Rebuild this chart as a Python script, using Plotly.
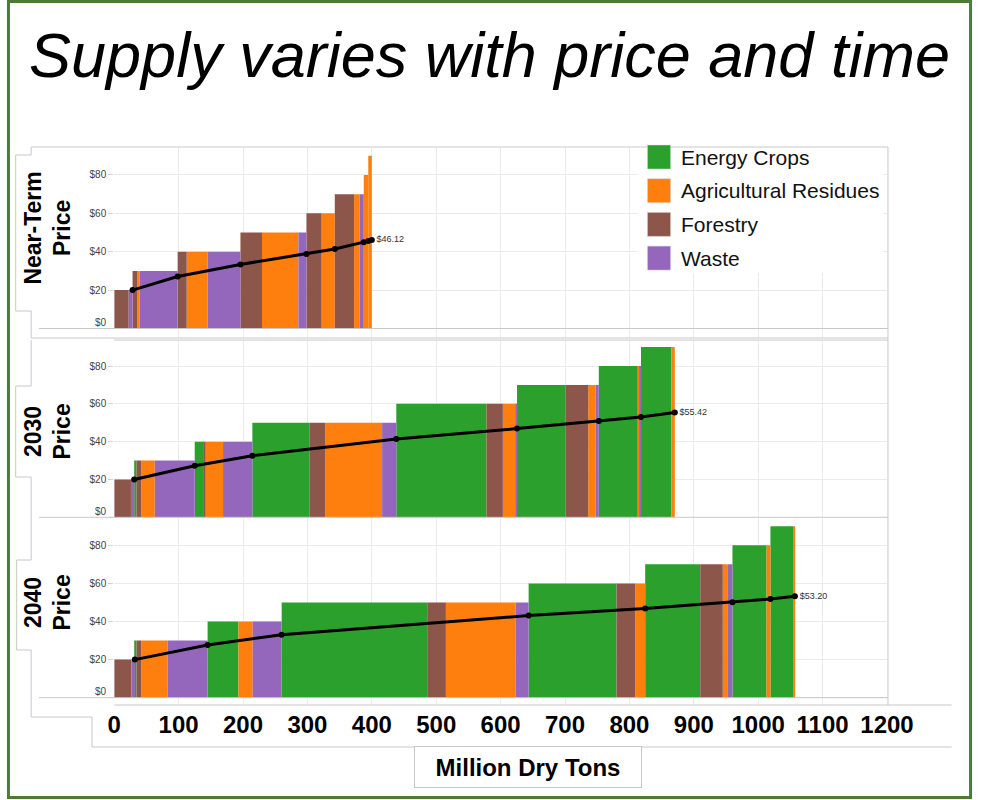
import plotly.graph_objects as go

W, H = 999, 800
FONT = "Liberation Sans, Arial, sans-serif"

# Feedstock categories and their colours
FEEDSTOCKS = ["Energy Crops", "Agricultural Residues", "Forestry", "Waste"]
COLORS = ["#2ca02c", "#ff7f0e", "#8c564b", "#9467bd"]
CODE = {"E": "Energy Crops", "A": "Agricultural Residues", "F": "Forestry", "W": "Waste"}

# Supply segments along each curve: price ($/dry ton), feedstock code, quantity (million dry tons)
nt_price = [20, 20, 30, 30, 30, 40, 40, 40, 50, 50, 50, 60, 60, 70, 70, 70, 80, 90]
nt_type = ["F", "W", "F", "A", "W", "F", "A", "W", "F", "A", "W", "F", "A", "F", "A", "W", "A", "A"]
nt_qty = [22.5, 6, 7.5, 3.5, 59, 14, 32.5, 51, 33.5, 56.5, 12.5, 23.5, 20.5, 30, 8.5, 6.5, 7, 5.5]

y2030_price = [20, 20, 30, 30, 30, 30, 40, 40, 40, 40, 50, 50, 50, 50,
               60, 60, 60, 60, 70, 70, 70, 70, 80, 80, 80, 90, 90]
y2030_type = ["F", "W", "E", "F", "A", "W", "E", "F", "A", "W", "E", "F", "A", "W",
              "E", "F", "A", "W", "E", "F", "A", "W", "E", "A", "W", "E", "A"]
y2030_qty = [26, 5, 3.5, 7.5, 21, 62, 13.6, 2.4, 28, 45.5, 88.5, 24.6, 88.4, 22,
             140, 25.5, 19.5, 2.5, 75.5, 35, 11.5, 5, 61, 3, 1.5, 47, 5.5]

y2040_price = [20, 20, 30, 30, 30, 30, 40, 40, 40, 50, 50, 50, 50,
               60, 60, 60, 70, 70, 70, 70, 80, 80, 90, 90]
y2040_type = ["F", "W", "E", "F", "A", "W", "E", "A", "W", "E", "F", "A", "W",
              "E", "F", "A", "E", "F", "A", "W", "E", "A", "E", "A"]
y2040_qty = [26.5, 5.5, 2.5, 7.5, 41, 62, 48, 22, 45, 227, 28, 108.5, 20,
             136.5, 29, 15.5, 85.5, 35, 8, 7, 53, 6, 36, 2]

# Cumulative average price line (quantity, price)
nt_avg_qty = [28.5, 98.5, 196, 298.5, 342.5, 387.5, 394.5, 400]
nt_avg_price = [20, 27.1, 33.4, 38.8, 41.4, 45.0, 45.6, 46.12]
y2030_avg_qty = [31, 125, 214.5, 438, 625.5, 752.5, 818, 870.5]
y2030_avg_price = [20, 27.3, 32.6, 41.4, 46.9, 50.9, 53.0, 55.42]
y2040_avg_qty = [32, 145, 260, 643.5, 824.5, 960, 1019, 1057]
y2040_avg_price = [20, 27.7, 33.1, 43.1, 46.8, 50.1, 51.8, 53.20]

X_TICKS = list(range(0, 1201, 100))
Y_TICKS = [0, 20, 40, 60, 80]


def fx(p):
    return p / W


def fy(p):
    return 1 - p / H


panels = [
    dict(label="Near-Term<br>Price", price=nt_price, kind=nt_type, qty=nt_qty,
         aq=nt_avg_qty, ap=nt_avg_price, top=148, bottom=338, yr=[-4.95, 94.06], ly=228),
    dict(label="2030<br>Price", price=y2030_price, kind=y2030_type, qty=y2030_qty,
         aq=y2030_avg_qty, ap=y2030_avg_price, top=340, bottom=518, yr=[-0.37, 93.76], ly=432),
    dict(label="2040<br>Price", price=y2040_price, kind=y2040_type, qty=y2040_qty,
         aq=y2040_avg_qty, ap=y2040_avg_price, top=518, bottom=705, yr=[-3.83, 94.33], ly=603),
]

fig = go.Figure()
layout = dict(
    width=W, height=H, margin=dict(l=0, r=0, t=0, b=0),
    paper_bgcolor="white", plot_bgcolor="white",
    barmode="overlay", showlegend=False, font=dict(family=FONT),
)
shapes = []
annotations = []

for i, p in enumerate(panels):
    n = "" if i == 0 else str(i + 1)
    xa, ya = "x" + n, "y" + n
    # bar positions from cumulative quantities
    starts, acc = [], 0.0
    for q in p["qty"]:
        starts.append(acc)
        acc += q
    for name, color in zip(FEEDSTOCKS, COLORS):
        idx = [k for k, c in enumerate(p["kind"]) if CODE[c] == name]
        if not idx:
            continue
        fig.add_trace(go.Bar(
            x=[starts[k] + p["qty"][k] / 2 for k in idx],
            y=[p["price"][k] for k in idx],
            width=[p["qty"][k] for k in idx],
            marker=dict(color=color, line=dict(width=0)),
            name=name, xaxis=xa, yaxis=ya, hoverinfo="skip",
        ))
    labels = [""] * (len(p["ap"]) - 1) + ["$%.2f" % p["ap"][-1]]
    fig.add_trace(go.Scatter(
        x=p["aq"], y=p["ap"], mode="lines+markers+text",
        line=dict(color="black", width=3), marker=dict(color="black", size=6),
        text=labels, textposition="middle right",
        textfont=dict(size=9, color="#333"), cliponaxis=False,
        xaxis=xa, yaxis=ya, hoverinfo="skip",
    ))

    layout["xaxis" + n] = dict(
        domain=[fx(111), fx(911)], range=[0, 1200], anchor=ya,
        tickvals=X_TICKS, showgrid=True, gridcolor="#ebebeb", gridwidth=1,
        zeroline=False, showline=False, ticks="",
        showticklabels=(i == 2),
        tickfont=dict(size=24, color="black", family=FONT, weight="bold"),
        ticklabelstandoff=3,
    )
    layout["yaxis" + n] = dict(
        domain=[fy(p["bottom"]), fy(p["top"])], range=p["yr"], anchor=xa,
        tickvals=Y_TICKS, ticktext=[""] + ["$%d" % v for v in Y_TICKS[1:]],
        showgrid=True, gridcolor="#ebebeb", gridwidth=1,
        zeroline=False, showline=False,
        ticks="outside", ticklen=5, tickcolor="#d4d4d4",
        tickfont=dict(size=10, color="#444", family=FONT),
    )
    # zero baseline, extended into the axis strip
    shapes.append(dict(type="line", xref="paper", yref=ya, x0=fx(33), x1=fx(912),
                       y0=0, y1=0, line=dict(color="#c8c8c8", width=1)))
    annotations.append(dict(text="$0", xref="paper", yref=ya, x=fx(106), y=0,
                            xanchor="right", yanchor="middle", yshift=6, showarrow=False,
                            font=dict(size=10, color="#444", family=FONT)))
    annotations.append(dict(text=p["label"], xref="paper", yref="paper", x=fx(42), y=fy(p["ly"]),
                            textangle=-90, showarrow=False, xanchor="center", yanchor="middle",
                            font=dict(size=23, color="black", family=FONT, weight="bold")))

# panel frame lines
line_c = "#c8c8c8"
for (x0, y0, x1, y1) in [(25, 147, 912, 147), (912, 147, 912, 705), (25, 338, 912, 338),
                         (111, 340, 912, 340), (111, 705, 978, 705), (88, 747, 978, 747)]:
    shapes.append(dict(type="line", xref="paper", yref="paper", x0=fx(x0), y0=fy(y0),
                       x1=fx(x1), y1=fy(y1), line=dict(color=line_c, width=1)))

step = [(25, 147), (25, 155), (9, 155), (9, 311), (25, 311), (25, 338)]
step2 = [(25, 340), (25, 386), (9, 386), (9, 477), (25, 477), (25, 560), (10, 560),
         (10, 650), (25, 650), (25, 717), (88, 717), (88, 747)]
for pts in (step, step2):
    path = "M " + " L ".join("%f,%f" % (fx(a), fy(b)) for a, b in pts)
    shapes.append(dict(type="path", xref="paper", yref="paper", path=path,
                       line=dict(color=line_c, width=1)))

# legend panel
shapes.append(dict(type="rect", xref="paper", yref="paper", x0=fx(653), x1=fx(907),
                   y0=fy(273), y1=fy(148), fillcolor="white", line=dict(width=0)))
for k, (name, color) in enumerate(zip(FEEDSTOCKS, COLORS)):
    cy = 157 + k * 33.7
    shapes.append(dict(type="rect", xref="paper", yref="paper", x0=fx(663), x1=fx(687),
                       y0=fy(cy + 12), y1=fy(cy - 12), fillcolor=color,
                       line=dict(color="#ddd", width=0.5)))
    annotations.append(dict(text=name, xref="paper", yref="paper", x=fx(696), y=fy(cy),
                            xanchor="left", yanchor="middle", showarrow=False,
                            font=dict(size=21, color="#111", family=FONT)))

# outer frame
shapes.append(dict(type="rect", xref="paper", yref="paper", x0=fx(1.5), x1=fx(997.5),
                   y0=fy(797.5), y1=fy(1.5), line=dict(color="#4d7a34", width=3)))

# title and axis caption
annotations.append(dict(text="Supply varies with price and time", xref="paper", yref="paper",
                        x=fx(500), y=fy(55), xanchor="center", yanchor="middle", showarrow=False,
                        font=dict(size=63, color="black", family=FONT, style="italic")))
annotations.append(dict(text="Million Dry Tons", xref="paper", yref="paper",
                        x=fx(539), y=fy(767), xanchor="center", yanchor="middle", showarrow=False,
                        width=224, height=38, bgcolor="white", bordercolor=line_c, borderwidth=1,
                        font=dict(size=24, color="black", family=FONT, weight="bold")))

layout["shapes"] = shapes
layout["annotations"] = annotations
fig.update_layout(**layout)
fig.write_html("out.html")
